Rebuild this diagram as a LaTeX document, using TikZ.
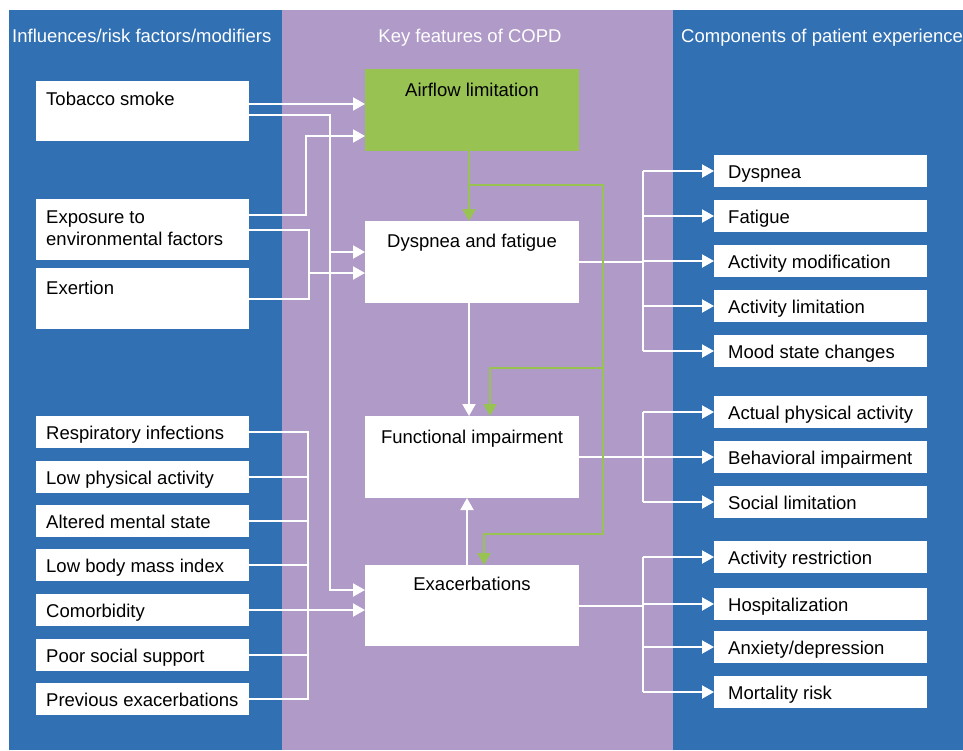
\documentclass[tikz,border=0pt]{standalone}
\usepackage{fontspec}
\setmainfont{Liberation Sans}
\usetikzlibrary{arrows.meta}
\definecolor{panelblue}{RGB}{49,112,178}
\definecolor{panelpurple}{RGB}{175,154,200}
\definecolor{keygreen}{RGB}{152,195,83}
\newcommand\fs{\fontsize{18.5}{22}\selectfont}
\newcommand\lrow[5]{%
  \node[wbox, minimum width=213pt, minimum height=32pt] (#1) at (#2,#3) {};
  \node[txt, anchor=base west] (#1t) at ([xshift=#5pt,yshift=-7pt]#1.west) {#4};}
\begin{document}
\begin{tikzpicture}[x=1pt,y=-1pt,
  wbox/.style={draw=none, fill=white, inner sep=0pt, outer sep=0pt, anchor=north west},
  txt/.style={font=\fs, inner sep=0pt, text=black},
  htxt/.style={font=\fs, inner sep=0pt, text=white},
  wline/.style={draw=white, line width=2pt},
  warr/.style={wline, -{Triangle[length=12pt,width=13pt]}},
  gline/.style={draw=keygreen, line width=2.5pt},
  garr/.style={gline, -{Triangle[length=12pt,width=13pt]}},
]
\useasboundingbox (0,0) rectangle (963,750);
\fill[white] (0,0) rectangle (963,750);
\fill[panelblue] (9,10) rectangle (282,750);
\fill[panelpurple] (282,10) rectangle (673,750);
\fill[panelblue] (673,10) rectangle (963,750);

% headers
\begin{scope}
\clip (0,0) rectangle (963,750);
\node[htxt, anchor=base west] (h1) at (12,42.5) {Influences/risk factors/modifiers};
\node[htxt, anchor=base] (h2) at (470,42.5) {Key features of COPD};
\node[htxt, anchor=base west] (h3) at (681,42.5) {Components of patient experience};
\end{scope}

% left big boxes
\node[wbox, minimum width=213pt, minimum height=60pt] (tob) at (36,81) {};
\node[txt, anchor=base west] (tobt) at ([xshift=10pt,yshift=-24.5pt]tob.north west) {Tobacco smoke};
\node[wbox, minimum width=213pt, minimum height=61pt] (expo) at (36,199) {};
\node[txt, anchor=north west, align=left] (expot) at ([xshift=10pt,yshift=-11.8pt]expo.north west) {Exposure to\\environmental factors};
\node[wbox, minimum width=213pt, minimum height=61pt] (exer) at (36,268) {};
\node[txt, anchor=base west] (exert) at ([xshift=10pt,yshift=-26pt]exer.north west) {Exertion};

% left small boxes
\lrow{res}{36}{416}{Respiratory infections}{10}
\lrow{lpa}{36}{461}{Low physical activity}{10}
\lrow{ams}{36}{505}{Altered mental state}{10}
\lrow{bmi}{36}{549}{Low body mass index}{10}
\lrow{com}{36}{594}{Comorbidity}{10}
\lrow{pss}{36}{639}{Poor social support}{10}
\lrow{pex}{36}{683}{Previous exacerbations}{10}

% center boxes
\node[wbox, fill=keygreen, minimum width=214pt, minimum height=82pt] (air) at (365,69) {};
\node[txt, anchor=base] (airt) at ([yshift=-27.7pt]air.north) {Airflow limitation};
\node[wbox, minimum width=214pt, minimum height=82pt] (dys) at (365,221) {};
\node[txt, anchor=base] (dyst) at ([yshift=-26pt]dys.north) {Dyspnea and fatigue};
\node[wbox, minimum width=214pt, minimum height=82pt] (fun) at (365,416) {};
\node[txt, anchor=base] (funt) at ([yshift=-27pt]fun.north) {Functional impairment};
\node[wbox, minimum width=214pt, minimum height=81pt] (exac) at (365,565) {};
\node[txt, anchor=base] (exact) at ([yshift=-25pt]exac.north) {Exacerbations};

% right boxes
\lrow{r1}{714}{155}{Dyspnea}{14}
\lrow{r2}{714}{200}{Fatigue}{14}
\lrow{r3}{714}{245}{Activity modification}{14}
\lrow{r4}{714}{290}{Activity limitation}{14}
\lrow{r5}{714}{335}{Mood state changes}{14}
\lrow{f1}{714}{396}{Actual physical activity}{14}
\lrow{f2}{714}{441}{Behavioral impairment}{14}
\lrow{f3}{714}{486}{Social limitation}{14}
\lrow{e1}{714}{541}{Activity restriction}{14}
\lrow{e2}{714}{588}{Hospitalization}{14}
\lrow{e3}{714}{631}{Anxiety/depression}{14}
\lrow{e4}{714}{676}{Mortality risk}{14}

% helper x positions
\coordinate (vT) at (330,0);
\coordinate (vE1) at (306,0);
\coordinate (vE2) at (309,0);
\coordinate (vL) at (308,0);
\coordinate (vR) at (643,0);

% left connectors
\draw[warr] ([yshift=7pt]tob.east) -- ([yshift=7pt]tob.east -| air.west);
\draw[warr] ([yshift=-4pt]tob.east) -| ([yshift=15.5pt]exac.west -| vT) -- ([yshift=15.5pt]exac.west);
\draw[warr] ([yshift=10pt]dys.west -| vT) -- ([yshift=10pt]dys.west);
\draw[warr] ([yshift=14.5pt]expo.east) -| ([yshift=-26pt]air.west -| vE1) -- ([yshift=-26pt]air.west);
\draw[wline] (expo.east) -| (exer.east -| vE2) -- (exer.east);
\draw[warr] ([yshift=-11pt]dys.west -| vE2) -- ([yshift=-11pt]dys.west);
\draw[wline] (res.east) -| (pex.east -| vL) -- (pex.east);
\foreach \n in {lpa,ams,bmi,pss} \draw[wline] (\n.east) -- (\n.east -| vL);
\draw[warr] (com.east) -- (com.east -| exac.west);

% right connectors
\draw[wline] (dys.east) -- (dys.east -| vR);
\draw[wline] (r1.west -| vR) -- (r5.west -| vR);
\foreach \n in {r1,r2,r3,r4,r5} \draw[warr] (\n.west -| vR) -- (\n.west);
\draw[wline] (fun.east) -- (fun.east -| vR);
\draw[wline] (f1.west -| vR) -- (f3.west -| vR);
\foreach \n in {f1,f2,f3} \draw[warr] (\n.west -| vR) -- (\n.west);
\draw[wline] ([yshift=-0.5pt]exac.east) -- ([yshift=-0.5pt]exac.east -| vR);
\draw[wline] (e1.west -| vR) -- (e4.west -| vR);
\foreach \n in {e1,e2,e3,e4} \draw[warr] (\n.west -| vR) -- (\n.west);

% center white arrows
\draw[warr] ([xshift=-3pt]dys.south) -- ([xshift=-3pt]fun.north);
\draw[warr] ([xshift=-5pt]exac.north) -- ([xshift=-5pt]fun.south);

% green connectors
\coordinate (gA) at (469,185);
\coordinate (gR) at (603,534);
\coordinate (gM) at (603,368);
\draw[garr] ([xshift=-3pt]air.south) -- ([xshift=-3pt]dys.north);
\draw[garr, line join=miter] (gA) -| (gR) -| ([xshift=12pt]exac.north);
\draw[garr, line join=miter] (gM) -| ([xshift=18pt]fun.north);
\end{tikzpicture}
\end{document}
